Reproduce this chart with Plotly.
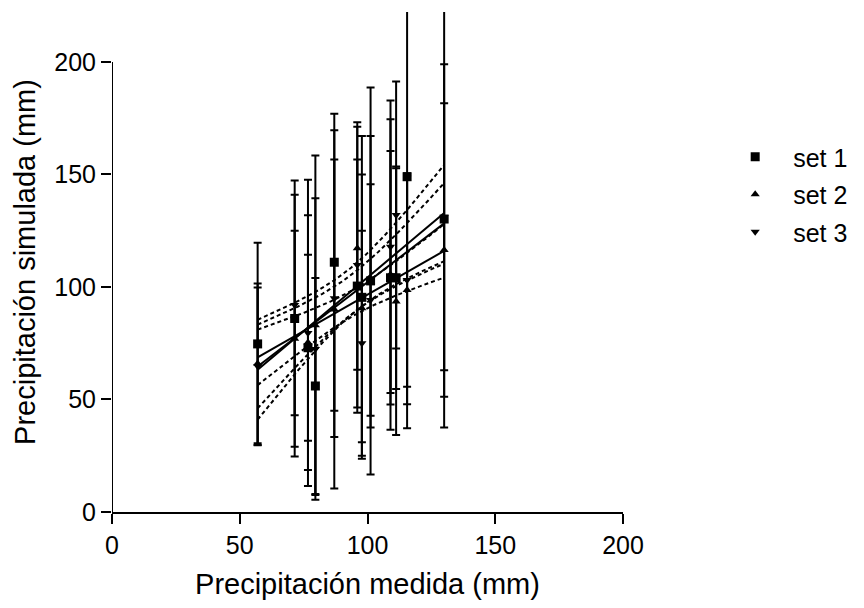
import numpy as np
import plotly.graph_objects as go

# Measured precipitation (x) and simulated precipitation (mean, SD) for three sets
measured = [57.0, 71.5, 76.7, 79.6, 87.0, 96.0, 97.8, 101.2, 109.0, 111.2, 115.5, 130.0]

set1_mean = [74.7, 86.0, 73.0, 56.0, 111.0, 100.4, 95.4, 102.7, 104.1, 104.1, 149.0, 130.2]
set1_sd = [45.0, 61.3, 41.3, 48.0, 66.0, 56.3, 71.7, 86.0, 56.3, 49.4, 111.8, 92.7]

set2_mean = [66.0, 77.0, 75.3, 83.0, 90.0, 117.2, 90.5, 102.3, 105.5, 93.5, 98.7, 116.4]
set2_sd = [35.5, 48.0, 56.6, 75.4, 79.6, 54.0, 59.5, 64.8, 69.0, 59.3, 50.8, 65.2]

set3_mean = [64.8, 92.0, 79.6, 72.4, 95.0, 109.8, 75.0, 94.2, 117.9, 132.0, 103.1, 131.0]
set3_sd = [35.0, 49.0, 68.0, 67.0, 61.7, 63.4, 50.0, 51.4, 65.0, 59.3, 47.4, 68.0]

set_names = ["set 1", "set 2", "set 3"]
set_symbols = ["square", "triangle-up", "triangle-down"]
set_sizes = [9, 8, 8]

x_ticks = [0, 50, 100, 150, 200]
y_ticks = [0, 50, 100, 150, 200]

FONT = "Liberation Sans, Arial, sans-serif"
FS = 25
FS_TITLE = 29
T_975_DF10 = 2.228  # Student t, 95% two-sided, 10 degrees of freedom

fig = go.Figure()

x = np.array(measured)
xfit = np.linspace(x.min(), x.max(), 120)
for means in (set1_mean, set2_mean, set3_mean):
    y = np.array(means)
    n = len(x)
    b, a = np.polyfit(x, y, 1)
    resid = y - (a + b * x)
    s = np.sqrt(np.sum(resid ** 2) / (n - 2))
    sxx = np.sum((x - x.mean()) ** 2)
    yfit = a + b * xfit
    se = s * np.sqrt(1.0 / n + (xfit - x.mean()) ** 2 / sxx)
    hw = T_975_DF10 * se
    fig.add_trace(go.Scatter(x=xfit, y=yfit, mode="lines", showlegend=False,
                             line=dict(color="black", width=2), hoverinfo="skip"))
    for band in (yfit + hw, yfit - hw):
        fig.add_trace(go.Scatter(x=xfit, y=band, mode="lines", showlegend=False,
                                 line=dict(color="black", width=2, dash="4px,3px"),
                                 hoverinfo="skip"))

for name, sym, sz, means, sds in zip(set_names, set_symbols, set_sizes,
                                     (set1_mean, set2_mean, set3_mean),
                                     (set1_sd, set2_sd, set3_sd)):
    fig.add_trace(go.Scatter(
        x=measured, y=means, mode="markers", name=name, legendgroup=name,
        marker=dict(symbol=sym, size=sz, color="black"),
        error_y=dict(type="data", array=sds, visible=True, color="black",
                     thickness=2, width=4),
    ))

# y-axis line only spans 0..200
fig.add_shape(type="line", xref="x", yref="y", x0=0, x1=0, y0=0, y1=200,
              line=dict(color="black", width=2), layer="above")

fig.update_layout(
    width=864, height=608,
    margin=dict(l=112, r=240, t=12, b=96),
    paper_bgcolor="white", plot_bgcolor="white",
    font=dict(family=FONT, size=FS, color="black"),
    showlegend=True,
    legend=dict(x=1.182, y=0.756, xanchor="left", yanchor="top",
                font=dict(family=FONT, size=FS, color="black"),
                bgcolor="rgba(0,0,0,0)", itemsizing="trace", itemwidth=66,
                tracegroupgap=2),
    xaxis=dict(range=[0, 200], tickvals=x_ticks, ticktext=[str(v) for v in x_ticks],
               showgrid=False, zeroline=False, showline=True, linecolor="black",
               linewidth=2, ticks="outside", ticklen=10, tickwidth=2, tickcolor="black",
               title=dict(text="Precipitación medida (mm)", standoff=16,
                          font=dict(family=FONT, size=FS_TITLE)),
               tickfont=dict(family=FONT, size=FS)),
    yaxis=dict(range=[0, 222.2], tickvals=y_ticks, ticktext=[str(v) for v in y_ticks],
               showgrid=False, zeroline=False, showline=False,
               ticks="outside", ticklen=10, tickwidth=2, tickcolor="black",
               title=dict(text="Precipitación simulada (mm)", standoff=10,
                          font=dict(family=FONT, size=FS_TITLE)),
               tickfont=dict(family=FONT, size=FS)),
)

fig.write_html("out.html")
